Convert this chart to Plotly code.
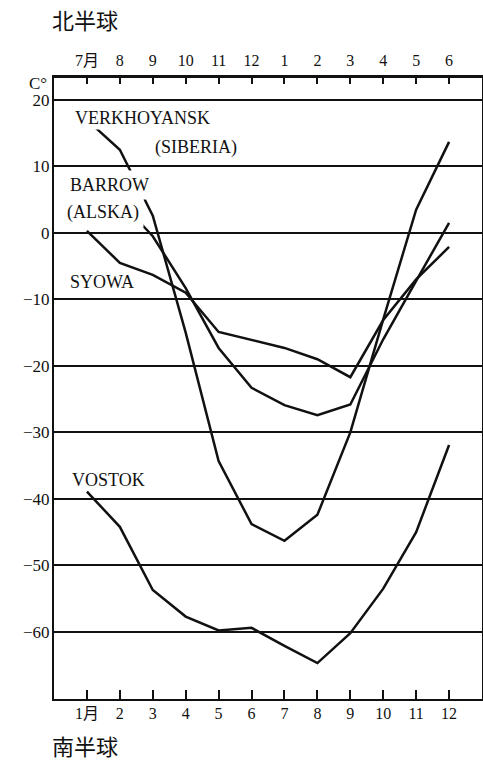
import plotly.graph_objects as go

# ---- data -------------------------------------------------------------
north_months = ["7月", "8", "9", "10", "11", "12", "1", "2", "3", "4", "5", "6"]
south_months = ["1月", "2", "3", "4", "5", "6", "7", "8", "9", "10", "11", "12"]
month_pos = list(range(1, 13))

# Northern hemisphere stations (plotted against the top month axis)
verkhoyansk = [17.0, 12.5, 2.6, -15.0, -34.3, -43.8, -46.3, -42.4, -30.0, -13.0, 3.5, 13.7]
barrow = [4.5, 4.8, -0.5, -8.3, -17.3, -23.3, -25.9, -27.4, -25.8, -16.0, -7.2, 1.5]
# Southern hemisphere stations (plotted against the bottom month axis)
syowa = [0.3, -4.5, -6.3, -9.0, -14.9, -16.1, -17.3, -19.0, -21.7, -13.1, -7.0, -2.1]
vostok = [-38.9, -44.2, -53.7, -57.7, -59.8, -59.4, -62.1, -64.7, -60.2, -53.5, -45.0, -31.9]

y_ticks = [-60, -50, -40, -30, -20, -10, 0, 10, 20]
y_ticktext = ["−60", "−50", "−40", "−30", "−20", "−10", "0", "10", "20"]

# ---- styling ----------------------------------------------------------
SERIF = "Liberation Serif, DejaVu Serif, Noto Sans CJK JP, serif"
CJK = "Noto Sans CJK JP, Noto Sans CJK SC, sans-serif"
INK = "#111111"
line_style = dict(color=INK, width=2.5)

fig = go.Figure()
fig.add_trace(go.Scatter(x=month_pos, y=verkhoyansk, mode="lines", line=line_style,
                         xaxis="x2", yaxis="y", name="VERKHOYANSK"))
fig.add_trace(go.Scatter(x=month_pos, y=barrow, mode="lines", line=line_style,
                         xaxis="x2", yaxis="y", name="BARROW"))
fig.add_trace(go.Scatter(x=month_pos, y=syowa, mode="lines", line=line_style,
                         xaxis="x", yaxis="y", name="SYOWA"))
fig.add_trace(go.Scatter(x=month_pos, y=vostok, mode="lines", line=line_style,
                         xaxis="x", yaxis="y", name="VOSTOK"))

XR = [0, 13]
YR = [-70.1, 23.3]

fig.update_layout(
    width=483, height=760,
    margin=dict(l=54, r=1, t=78, b=61, autoexpand=False),
    paper_bgcolor="white", plot_bgcolor="white",
    showlegend=False,
    font=dict(family=SERIF, color=INK, size=16),
    xaxis=dict(range=XR, tickmode="array", tickvals=month_pos, ticktext=south_months,
               ticks="inside", ticklen=9, tickwidth=1.5, tickcolor=INK, automargin=False,
               showline=True, linewidth=2, linecolor=INK, showgrid=False, zeroline=False,
               tickfont=dict(family=SERIF, size=16, color=INK), ticklabelstandoff=-1),
    xaxis2=dict(range=XR, overlaying="x", side="top", tickmode="array", tickvals=month_pos,
                ticktext=north_months, ticks="inside", ticklen=6, tickwidth=1.5, tickcolor=INK,
                showline=True, linewidth=2.5, linecolor=INK, showgrid=False, zeroline=False,
                automargin=False,
                tickfont=dict(family=SERIF, size=16, color=INK), ticklabelstandoff=3),
    yaxis=dict(range=YR, tickmode="array", tickvals=y_ticks, ticktext=y_ticktext,
               ticks="", showline=True, mirror=True, linewidth=2, linecolor=INK,
               showgrid=True, gridcolor=INK, gridwidth=1.5, zeroline=False, automargin=False,
               tickfont=dict(family=SERIF, size=17, color=INK), ticklabelstandoff=-1),
)

def label(text, x, y, bg=None, pad=1):
    fig.add_annotation(text=text, x=x, y=y, xref="x", yref="y", xanchor="left",
                       yanchor="middle", showarrow=False,
                       font=dict(family=SERIF, size=18, color=INK),
                       bgcolor=bg if bg else "rgba(0,0,0,0)", borderpad=pad)

label("VERKHOYANSK", 0.58, 17.3, bg="white", pad=1)
label("(SIBERIA)", 3.0, 12.9)
label("BARROW", 0.33, 7.2, bg="white", pad=4)
label("(ALSKA)", 0.24, 3.0, bg="white", pad=4)
label("SYOWA", 0.43, -7.4)
label("VOSTOK", 0.49, -37.1)

fig.add_annotation(text="C°", x=-0.012, y=22.4, xref="paper", yref="y", xanchor="right",
                   yanchor="middle", showarrow=False, font=dict(family=SERIF, size=17, color=INK))
fig.add_annotation(text="北半球", x=-0.0093, y=1.095, xref="paper", yref="paper",
                   xanchor="left", yanchor="middle", showarrow=False,
                   font=dict(family=CJK, size=22, color=INK))
fig.add_annotation(text="南半球", x=-0.0093, y=-0.074, xref="paper", yref="paper",
                   xanchor="left", yanchor="middle", showarrow=False,
                   font=dict(family=CJK, size=22, color=INK))

fig.write_html("out.html", config={"displayModeBar": False},
               post_script="document.body.style.margin='0';document.body.style.overflow='hidden';")
